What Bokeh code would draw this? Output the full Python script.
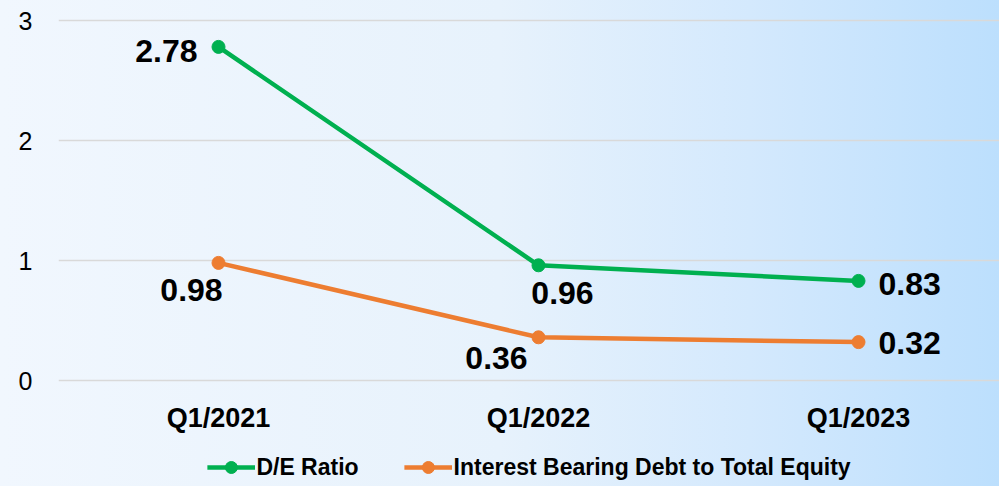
from bokeh.plotting import figure
from bokeh.models import Range1d, FixedTicker, ColumnDataSource, Legend, LegendItem
from bokeh.core.properties import value
from bokeh.embed import file_html
from bokeh.resources import INLINE

categories = ["Q1/2021", "Q1/2022", "Q1/2023"]
de_ratio = [2.78, 0.96, 0.83]
ibd_equity = [0.98, 0.36, 0.32]
y_ticks = [0, 1, 2, 3]
series_names = ["D/E Ratio", "Interest Bearing Debt to Total Equity"]

GREEN = "#00b050"
ORANGE = "#ed7d31"
FONT = "Liberation Sans"

xs = list(range(len(categories)))

p = figure(width=999, height=486, output_backend="svg", toolbar_location=None,
           x_range=Range1d(-0.5, 2.4406), y_range=Range1d(-0.8833, 3.1667),
           min_border_left=58, min_border_right=0, min_border_top=0, min_border_bottom=0)
p.styles = {"background-image": "linear-gradient(to right, #f1f7fe 0%, #e7f2fc 50%, #d4e9fd 75%, #bcdffd 100%)"}
p.background_fill_alpha = 0
p.border_fill_alpha = 0
p.outline_line_color = None

# axes
p.yaxis.ticker = FixedTicker(ticks=y_ticks)
p.yaxis.axis_line_color = None
p.yaxis.major_tick_line_color = None
p.yaxis.minor_tick_line_color = None
p.yaxis.major_label_text_font = FONT
p.yaxis.major_label_text_font_size = "25px"
p.yaxis.major_label_text_color = "#000000"
p.yaxis.major_label_standoff = 20

p.xaxis.ticker = FixedTicker(ticks=xs)
p.xaxis.fixed_location = 0
p.xaxis.major_label_overrides = {i: c for i, c in enumerate(categories)}
p.xaxis.axis_line_color = None
p.xaxis.major_tick_line_color = None
p.xaxis.minor_tick_line_color = None
p.xaxis.major_label_text_font = FONT
p.xaxis.major_label_text_font_size = "27px"
p.xaxis.major_label_text_font_style = "bold"
p.xaxis.major_label_text_color = "#000000"
p.xaxis.major_label_standoff = 16

p.xgrid.grid_line_color = None
p.ygrid.ticker = FixedTicker(ticks=y_ticks)
p.ygrid.grid_line_color = "#d9d9d9"
p.ygrid.grid_line_width = 1.5

# series
src_de = ColumnDataSource(dict(x=xs, y=de_ratio, lab=[f"{v:.2f}" for v in de_ratio]))
src_ibd = ColumnDataSource(dict(x=xs, y=ibd_equity, lab=[f"{v:.2f}" for v in ibd_equity]))

l1 = p.line("x", "y", source=src_de, line_color=GREEN, line_width=4.5)
m1 = p.scatter("x", "y", source=src_de, size=13, fill_color=GREEN, line_color=GREEN)
l2 = p.line("x", "y", source=src_ibd, line_color=ORANGE, line_width=4.5)
m2 = p.scatter("x", "y", source=src_ibd, size=13, fill_color=ORANGE, line_color=ORANGE)

# data labels (offsets in screen px)
de_dx = [-21, 24, 20]
de_dy = [4, 28, 3]
de_align = ["right", "center", "left"]
ibd_dx = [-27, -42, 20]
ibd_dy = [27, 21, 1]
ibd_align = ["center", "center", "left"]
src_de.data.update(dx=de_dx, dy=de_dy, al=de_align)
src_ibd.data.update(dx=ibd_dx, dy=ibd_dy, al=ibd_align)
for s in (src_de, src_ibd):
    p.text("x", "y", text="lab", source=s, x_offset="dx", y_offset="dy", text_align="al",
           text_baseline="middle", text_font=value(FONT), text_font_size="32px",
           text_font_style="bold", text_color="#000000")

legend = Legend(items=[LegendItem(label=series_names[0], renderers=[l1, m1]),
                       LegendItem(label=series_names[1], renderers=[l2, m2])],
                orientation="horizontal", location="bottom_center",
                label_text_font=FONT, label_text_font_size="23px", label_text_font_style="bold",
                label_text_color="#000000", glyph_width=48, glyph_height=30,
                spacing=45, label_standoff=2, padding=0, margin=4,
                background_fill_alpha=0, border_line_color=None)
p.add_layout(legend)

open("out.html", "w").write(file_html(p, INLINE))
